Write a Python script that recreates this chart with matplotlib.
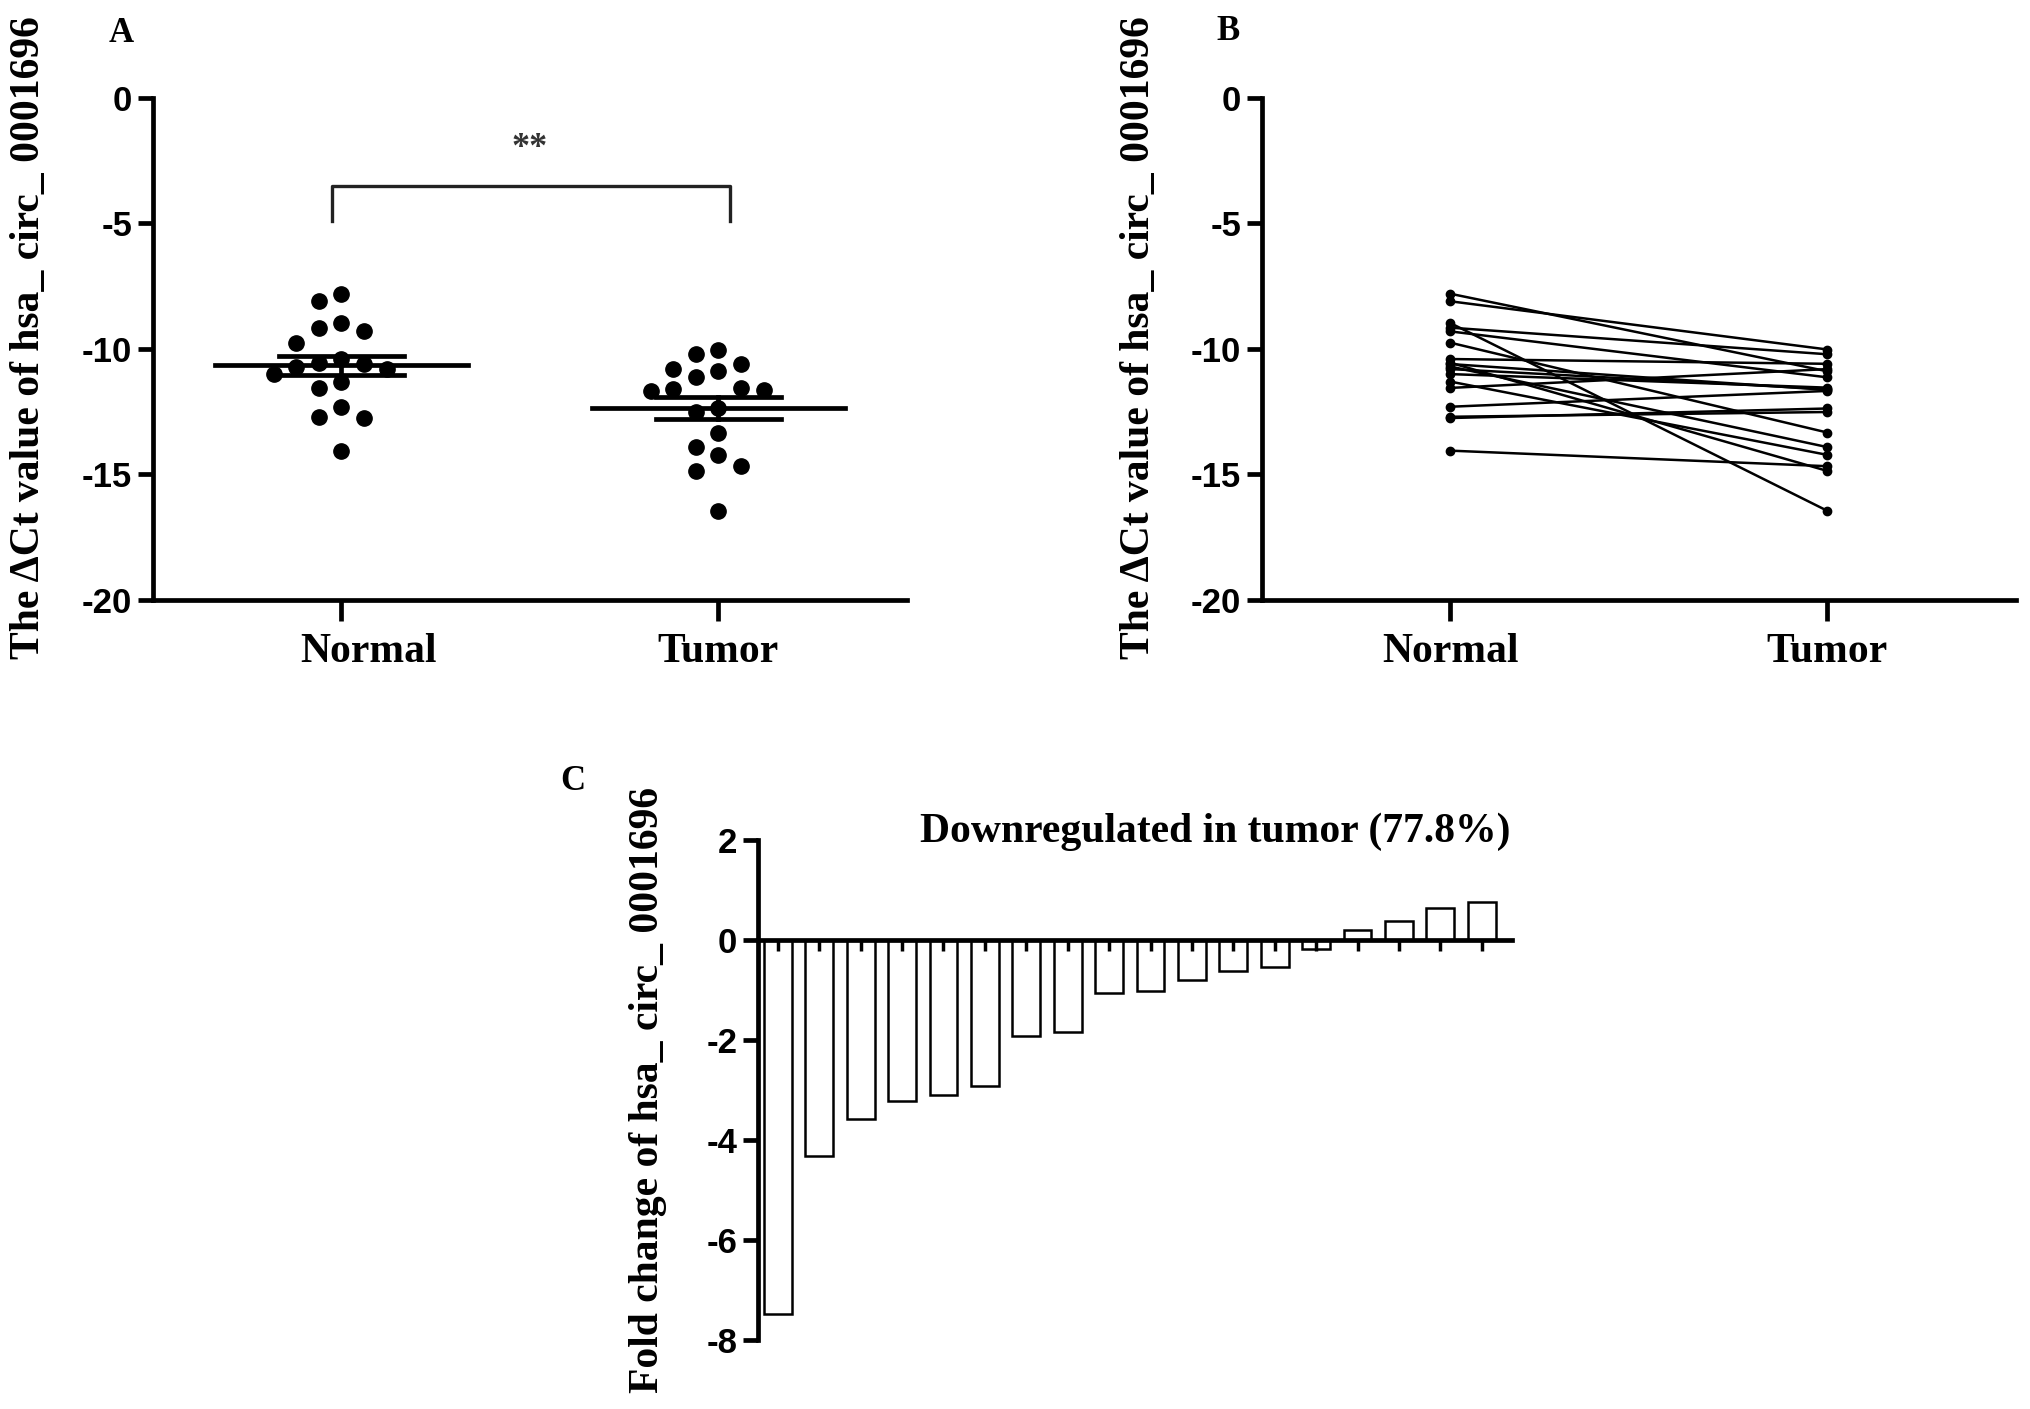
import numpy as np
import matplotlib
matplotlib.use('Agg')
import matplotlib.pyplot as plt
from matplotlib.transforms import ScaledTranslation

plt.rcParams['axes.unicode_minus'] = False

# Delta Ct values per sample (same order as the bars of panel C)
normal = [-8.97, -10.55, -9.75, -10.70, -7.80, -11.30, -8.10, -9.30, -9.15,
          -10.60, -10.80, -14.05, -11.00, -10.40, -12.70, -12.75, -12.30, -11.55]
tumor = [-16.45, -14.86, -13.33, -13.91, -10.89, -14.22, -10.02, -11.13, -10.21,
         -11.63, -11.60, -14.67, -11.54, -10.59, -12.51, -12.37, -11.67, -10.80]
groups = ['Normal', 'Tumor']

# Fold change (panel C)
fold_change = [-7.48, -4.31, -3.58, -3.21, -3.09, -2.92, -1.92, -1.83, -1.06,
               -1.03, -0.80, -0.62, -0.54, -0.19, 0.19, 0.38, 0.63, 0.75]

ct_label = 'The \u0394Ct value of hsa_ circ_ 0001696'
fc_label = 'Fold change of hsa_ circ_ 0001696'
fc_title = 'Downregulated in tumor (77.8%)'

W, H = 2031, 1409
fig = plt.figure(figsize=(W / 100, H / 100), dpi=100)

serif = ['Liberation Serif', 'DejaVu Serif']
sans = ['Liberation Sans', 'DejaVu Sans']
LW = 3.4


def px_axes(left, top, right, bottom):
    return fig.add_axes([left / W, 1 - bottom / H, (right - left) / W, (bottom - top) / H])


def style(ax):
    for s in ['top', 'right']:
        ax.spines[s].set_visible(False)
    for s in ['left', 'bottom']:
        ax.spines[s].set_linewidth(LW)
    ax.tick_params(axis='both', width=LW, length=11, direction='out')
    ax.tick_params(axis='y', pad=4, labelsize=25)
    for lbl in ax.get_yticklabels():
        lbl.set_fontfamily(sans)
        lbl.set_fontweight('bold')


def swarm(vals, step=0.06, xpx=377.0, ypx=25.1, d=20.0):
    vals = np.asarray(vals)
    offs = np.zeros(len(vals))
    placed = []
    cands = [0.0]
    for k in range(1, 10):
        cands += [-k * step, k * step]
    for i in np.argsort(vals)[::-1]:
        for c in cands:
            if all(((c - ox) * xpx) ** 2 + ((vals[i] - oy) * ypx) ** 2 >= d ** 2 for ox, oy in placed):
                offs[i] = c
                placed.append((c, vals[i]))
                break
    return offs


def ct_axes(ax):
    ax.set_xlim(-0.5, 1.5)
    ax.set_ylim(-20, 0)
    ax.set_yticks([0, -5, -10, -15, -20])
    ax.set_xticks([0, 1])
    ax.set_xticklabels(groups, fontfamily=serif, fontweight='bold', fontsize=30)
    style(ax)
    ax.tick_params(axis='x', length=15, pad=9)


# ---- Panel A
axA = px_axes(153, 98, 907, 600)
ct_axes(axA)
for j, vals in enumerate([normal, tumor]):
    vals = np.array(vals)
    xs = j + swarm(vals)
    axA.plot(xs, vals, 'o', color='black', markersize=11, clip_on=False, zorder=3)
    m = vals.mean()
    sem = vals.std(ddof=1) / np.sqrt(len(vals))
    axA.plot([j - 0.336, j + 0.336], [m, m], color='black', lw=LW, zorder=4)
    axA.plot([j - 0.165, j + 0.165], [m + sem, m + sem], color='black', lw=LW, zorder=4)
    axA.plot([j - 0.165, j + 0.165], [m - sem, m - sem], color='black', lw=LW, zorder=4)
    axA.plot([j, j], [m - sem, m + sem], color='black', lw=LW, zorder=4)
axA.plot([-0.025, -0.025, 1.03, 1.03], [-4.9, -3.5, -3.5, -4.9], color='#222222', lw=2.4)
axA.text(0.5, -2.0, '**', ha='center', va='center', fontsize=26, fontfamily=serif,
         fontweight='bold', color='#333333')
axA.text(-0.164, 0.522, ct_label, transform=axA.transAxes, rotation=90, ha='center',
         va='center', fontsize=30, fontfamily=serif, fontweight='bold')
# the Normal label sits a little right of its tick in the original
lblN = axA.xaxis.get_major_ticks()[0].label1
lblN.set_transform(lblN.get_transform() + ScaledTranslation(0.27, 0, fig.dpi_scale_trans))

# ---- Panel B
axB = px_axes(1262, 98, 2016, 600)
ct_axes(axB)
for n, t in zip(normal, tumor):
    axB.plot([0, 1], [n, t], '-o', color='black', lw=1.8, markersize=6, zorder=3)
axB.text(-0.163, 0.522, ct_label, transform=axB.transAxes, rotation=90, ha='center',
         va='center', fontsize=30, fontfamily=serif, fontweight='bold')

# ---- Panel C
axC = px_axes(758, 840, 1512, 1340)
idx = np.arange(len(fold_change))
axC.bar(idx, fold_change, width=0.67, color='white', edgecolor='black', linewidth=1.8)
axC.set_xlim(-0.48, len(fold_change) - 0.27)
axC.set_ylim(-8, 2)
axC.set_yticks([2, 0, -2, -4, -6, -8])
axC.set_xticks(idx)
axC.set_xticklabels([])
style(axC)
axC.spines['bottom'].set_position(('data', 0))
axC.tick_params(axis='x', length=8, width=2.5)
axC.text(-0.146, 0.5, fc_label, transform=axC.transAxes, rotation=90, ha='center',
         va='center', fontsize=30, fontfamily=serif, fontweight='bold')
axC.text(0.606, 1.016, fc_title, transform=axC.transAxes, ha='center', va='center',
         fontsize=30, fontfamily=serif, fontweight='bold')

# panel letters
for letter, (px, py) in zip('ABC', [(121, 34), (1228, 31), (573, 782)]):
    fig.text(px / W, 1 - py / H, letter, ha='center', va='center', fontsize=25,
             fontfamily=serif, fontweight='bold')

fig.savefig('out.png', dpi=100)
